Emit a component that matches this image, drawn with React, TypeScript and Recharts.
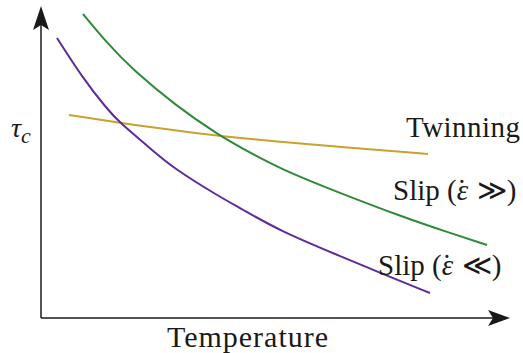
import { LineChart, Line, XAxis, YAxis, ReferenceDot, ReferenceLine } from "recharts";

// Schematic: critical resolved shear stress vs temperature (arbitrary units)
const slipSlowT = [16, 41, 66, 79, 109, 132, 179, 199, 239, 299, 349, 389];
const slipSlowTau = [280, 241, 209, 195, 170, 150, 121, 110, 87, 62, 41, 25];

const slipFastT = [42, 66, 92, 134, 179, 199, 239, 299, 359, 409, 446];
const slipFastTau = [304, 275, 248, 213, 182, 171, 149, 125, 102, 85, 73];

const twinT = [28, 79, 139, 179, 239, 299, 387];
const twinTau = [203, 195, 187, 182, 176, 171, 164];

const T_MAX = 469;
const TAU_MAX = 312;

const W = 523;
const H = 353;
const MARGIN = { top: 6, right: 13, left: 41, bottom: 35 };

const PURPLE = "#5f2b9a";
const GREEN = "#2f8a3a";
const GOLD = "#c9a12c";
const INK = "#1a1a1a";
const FONT = "'Liberation Serif', serif";

const zip = (xs: number[], ys: number[]) => xs.map((x, i) => ({ x, y: ys[i] }));

const slipSlow = zip(slipSlowT, slipSlowTau);
const slipFast = zip(slipFastT, slipFastTau);
const twinning = zip(twinT, twinTau);

const ArrowRight = (props: any) => {
  const { cx, cy } = props;
  const L = 22;
  return (
    <path
      d={`M${cx},${cy} L${cx - L},${cy - 8} L${cx - L + 5},${cy} L${cx - L},${cy + 8} Z`}
      fill={INK}
    />
  );
};

const ArrowUp = (props: any) => {
  const { cx, cy } = props;
  const L = 24;
  return (
    <path
      d={`M${cx},${cy} L${cx - 8},${cy + L} L${cx},${cy + L - 5} L${cx + 8},${cy + L} Z`}
      fill={INK}
    />
  );
};

// "Slip (ε̇ ≫)" with the dot placed over the epsilon by hand
const SlipLabel = ({ x, y, rel }: { x: number; y: number; rel: string }) => (
  <text x={x} y={y} fontSize={29} fontFamily={FONT} fill={INK}>
    Slip (
    <tspan fontStyle="italic">ε</tspan>
    <tspan dx={-11}>˙</tspan>
    <tspan dx={10}>{rel})</tspan>
  </text>
);

export default function App() {
  return (
    <div style={{ position: "absolute", left: 0, top: 0, width: W, height: H, background: "#fff" }}>
      <LineChart width={W} height={H} margin={MARGIN}>
        <XAxis type="number" dataKey="x" domain={[0, T_MAX]} allowDataOverflow hide />
        <YAxis type="number" dataKey="y" domain={[0, TAU_MAX]} allowDataOverflow hide />
        <ReferenceLine
          segment={[{ x: 0, y: 0 }, { x: T_MAX - 10, y: 0 }]}
          stroke={INK}
          strokeWidth={1.5}
          ifOverflow="visible"
        />
        <ReferenceLine
          segment={[{ x: 0, y: 0 }, { x: 0, y: TAU_MAX - 10 }]}
          stroke={INK}
          strokeWidth={1.5}
          ifOverflow="visible"
        />
        <Line data={twinning} dataKey="y" type="basis" stroke={GOLD} strokeWidth={2} dot={false} isAnimationActive={false} />
        <Line data={slipFast} dataKey="y" type="basis" stroke={GREEN} strokeWidth={2} dot={false} isAnimationActive={false} />
        <Line data={slipSlow} dataKey="y" type="basis" stroke={PURPLE} strokeWidth={2} dot={false} isAnimationActive={false} />
        <ReferenceDot x={T_MAX} y={0} ifOverflow="visible" shape={ArrowRight} />
        <ReferenceDot x={0} y={TAU_MAX} ifOverflow="visible" shape={ArrowUp} />
      </LineChart>
      <svg width={W} height={H} style={{ position: "absolute", left: 0, top: 0, pointerEvents: "none" }}>
        <text x={11} y={137} fontSize={28} fontStyle="italic" fontFamily={FONT} fill={INK}>
          τ
          <tspan fontSize={22} dy={6}>
            c
          </tspan>
        </text>
        <text x={406} y={137} fontSize={29} fontFamily={FONT} fill={INK} textLength={114}>
          Twinning
        </text>
        <SlipLabel x={393} y={200} rel="≫" />
        <SlipLabel x={378} y={275} rel="≪" />
        <text x={167} y={347} fontSize={30} fontFamily={FONT} fill={INK} textLength={161}>
          Temperature
        </text>
      </svg>
    </div>
  );
}
